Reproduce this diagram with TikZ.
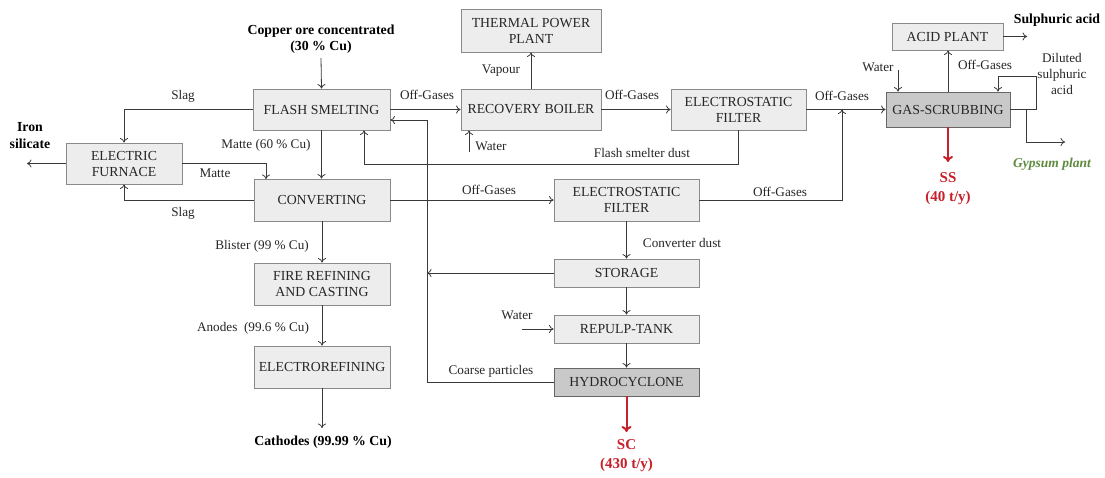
\documentclass[tikz,border=0pt]{standalone}
\usepackage{fontspec}
\setmainfont{Liberation Serif}
\usetikzlibrary{arrows.meta,shadows}
\definecolor{boxfill}{HTML}{EDEDED}
\definecolor{boxdark}{HTML}{C9C9C9}
\definecolor{boxline}{HTML}{8A8A8A}
\definecolor{linec}{HTML}{3A3A3A}
\definecolor{redc}{HTML}{C8202A}
\definecolor{greenc}{HTML}{5E8A3E}
\tikzset{
  pbox/.style={draw=boxline, fill=boxfill, line width=0.9pt, align=center, inner sep=1pt,
    text=black!85, font=\fontsize{13.8}{16}\selectfont,
    drop shadow={shadow xshift=1.2pt, shadow yshift=-1.2pt, opacity=0.25, fill=black}},
  dbox/.style={pbox, fill=boxdark, draw=black!60},
  lbl/.style={font=\fontsize{13.2}{16}\selectfont, text=black!85, inner sep=0pt, align=center},
  blbl/.style={lbl, font=\fontsize{13.8}{16.5}\selectfont\bfseries, text=black},
  rlbl/.style={lbl, font=\fontsize{15}{19}\selectfont\bfseries, text=redc},
  arr/.style={draw=linec, line width=0.8pt, -{To[length=4.5pt,width=8pt]}},
  ln/.style={draw=linec, line width=0.8pt},
  rarr/.style={draw=redc, line width=2pt, -{To[length=6pt,width=10pt]}}
}
\begin{document}
\begin{tikzpicture}[x=1pt,y=-1pt]
\useasboundingbox[fill=white] (0,0) rectangle (1105,477);
% boxes
\node[pbox, minimum width=137pt, minimum height=41pt] (fs) at (321.5,109.5) {FLASH SMELTING};
\node[pbox, minimum width=116pt, minimum height=41pt] (ef) at (124,163.5) {ELECTRIC\\FURNACE};
\node[pbox, minimum width=136pt, minimum height=42pt] (conv) at (322,200) {CONVERTING};
\node[pbox, minimum width=140pt, minimum height=43pt] (tpp) at (531,30.5) {THERMAL POWER\\PLANT};
\node[pbox, minimum width=140pt, minimum height=41pt] (rb) at (531,109.5) {RECOVERY BOILER};
\node[pbox, minimum width=135pt, minimum height=41pt] (esa) at (738.5,109.5) {ELECTROSTATIC\\FILTER};
\node[pbox, minimum width=145pt, minimum height=42pt] (esb) at (626.5,200) {ELECTROSTATIC\\FILTER};
\node[dbox, minimum width=124pt, minimum height=35pt] (gs) at (948,109.5) {GAS-SCRUBBING};
\node[pbox, minimum width=111pt, minimum height=27pt] (ap) at (947.5,36.5) {ACID PLANT};
\node[pbox, minimum width=145pt, minimum height=28pt] (st) at (626.5,273) {STORAGE};
\node[pbox, minimum width=145pt, minimum height=28pt] (rp) at (626.5,329) {REPULP-TANK};
\node[dbox, minimum width=145pt, minimum height=28pt] (hc) at (626.5,382) {HYDROCYCLONE};
\node[pbox, minimum width=136pt, minimum height=42pt] (fr) at (322,284) {FIRE REFINING\\AND CASTING};
\node[pbox, minimum width=136pt, minimum height=42pt] (er) at (322,367) {ELECTROREFINING};

% free-end coordinates
\coordinate (ironend) at (27,163.5);
\coordinate (mattein) at (266,179);
\coordinate (watA) at (469,152);
\coordinate (fsd) at (364,164);
\coordinate (mg) at (842,109.5);
\coordinate (rt) at (427,273);
\coordinate (ret) at (427,120);
\coordinate (watB) at (522,329);
\coordinate (scend) at (626.5,432);
\coordinate (ssend) at (948,162);
\coordinate (watC) at (898,70);
\coordinate (sulend) at (1027,36.5);
\coordinate (loopA) at (1036,109.5);
\coordinate (loopB) at (998,76);
\coordinate (gypA) at (1026,109.5);
\coordinate (gypB) at (1065,142);
\coordinate (cathend) at (322,428);
\coordinate (copend) at (321,58);

% text labels
\node[blbl] (cop) at (321,39) {Copper ore concentrated\\(30 \% Cu)};
\node[blbl] (iron) at (30,135.5) {Iron\\silicate};
\node[blbl] (cath) at (323,442) {Cathodes (99.99 \% Cu)};
\node[blbl] (sul) at (1057,20) {Sulphuric acid};
\node[lbl] (slag1) at (183,96) {Slag};
\node[lbl] (slag2) at (183,213) {Slag};
\node[lbl] (matte60) at (266,145) {Matte (60 \% Cu)};
\node[lbl] (matte) at (215,173) {Matte};
\node[lbl] (og1) at (427,95) {Off-Gases};
\node[lbl] (og2) at (632,95) {Off-Gases};
\node[lbl] (og3) at (842,96) {Off-Gases};
\node[lbl] (og4) at (489,190) {Off-Gases};
\node[lbl] (og5) at (780,192) {Off-Gases};
\node[lbl] (og6) at (985,65) {Off-Gases};
\node[lbl] (vap) at (501,71) {Vapour};
\node[lbl] (wA) at (491,146) {Water};
\node[lbl] (fsdl) at (642,153) {Flash smelter dust};
\node[lbl] (cdl) at (682,243) {Converter dust};
\node[lbl] (wB) at (517,315) {Water};
\node[lbl] (wC) at (878,67) {Water};
\node[lbl] (cp) at (491,371) {Coarse particles};
\node[lbl] (bl) at (262,246) {Blister (99 \% Cu)};
\node[lbl] (an) at (253,328) {Anodes\ \ (99.6 \% Cu)};
\node[lbl] (dil) at (1062,74) {Diluted\\sulphuric\\acid};
\node[lbl, font=\fontsize{13.5}{16}\selectfont\bfseries\itshape, text=greenc] (gyp) at (1052,164) {Gypsum plant};
\node[rlbl] (sc) at (626.5,456) {SC\\(430 t/y)};
\node[rlbl] (ss) at (948,189) {SS\\(40 t/y)};

% connectors
\draw[arr] (copend) -- (fs.north);
\draw[arr] (fs.west) -| (ef.north);
\draw[arr] (ef.west) -- (ironend);
\draw[arr] (fs.south) -- (fs.south |- conv.north);
\draw[arr] (ef.east) -| (mattein);
\draw[arr] (conv.west) -| (ef.south);
\draw[arr] (fs.east) -- (rb.west);
\draw[arr] (watA) -- (watA |- rb.south);
\draw[arr] (rb.north) -- (tpp.south);
\draw[arr] (rb.east) -- (esa.west);
\draw[arr] (esa.east) -- (gs.west);
\draw[arr] (esa.south) |- (fsd) -- (fsd |- fs.south);
\draw[arr] (conv.east) -- (esb.west);
\draw[arr] (esb.east) -| (mg);
\draw[arr] (esb.south) -- (st.north);
\draw[arr] (st.west) -- (rt);
\draw[arr] (st.south) -- (rp.north);
\draw[arr] (rp.south) -- (hc.north);
\draw[arr] (watB) -- (rp.west);
\draw[arr] (hc.west) -| (ret) -- (ret -| fs.east);
\draw[rarr] (hc.south) -- (scend);
\draw[rarr] (gs.south) -- (ssend);
\draw[arr] (gs.north) -- (gs.north |- ap.south);
\draw[arr] (watC) -- (watC |- gs.north);
\draw[arr] (ap.east) -- (sulend);
\draw[arr] (gs.east) -- (loopA) |- (loopB) -- (loopB |- gs.north);
\draw[arr] (gypA) |- (gypB);
\draw[arr] (conv.south) -- (fr.north);
\draw[arr] (fr.south) -- (er.north);
\draw[arr] (er.south) -- (cathend);
\end{tikzpicture}
\end{document}
